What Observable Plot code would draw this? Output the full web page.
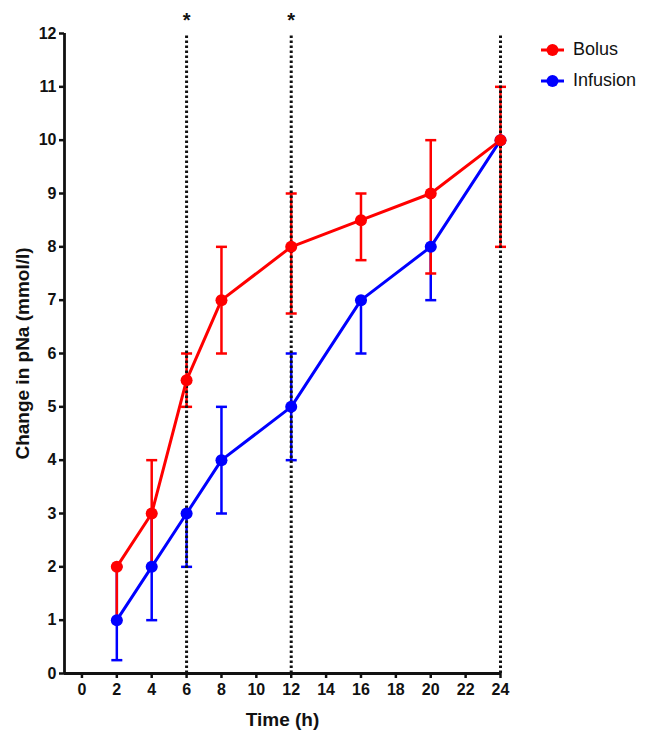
<!DOCTYPE html>
<html><head><meta charset="utf-8">
<script src="https://cdn.jsdelivr.net/npm/d3@7"></script>
<script src="https://cdn.jsdelivr.net/npm/@observablehq/plot@0.6"></script>
<style>
body{margin:0;background:#fff;}
#wrap{position:relative;width:646px;height:730px;font-family:"Liberation Sans",Arial,sans-serif;}
.legend{position:absolute;left:540px;top:34px;font-size:18px;color:#111;}
.item{display:flex;align-items:center;height:31px;}
.item svg{margin-right:8px;}
</style></head><body><div id="wrap"></div>
<script>
// ---- data ----
const times = [2, 4, 6, 8, 12, 16, 20, 24];
const bolusMean = [2, 3, 5.5, 7, 8, 8.5, 9, 10];
const bolusLow  = [1, 2, 5, 6, 6.75, 7.75, 7.5, 8];
const bolusHigh = [2, 4, 6, 8, 9, 9, 10, 11];
const infusionMean = [1, 2, 3, 4, 5, 7, 8, 10];
const infusionLow  = [0.25, 1, 2, 3, 4, 6, 7, 10];
const infusionHigh = [2, 3, 3, 5, 6, 7, 8, 10];
const groups = ["Bolus", "Infusion"];
const colors = ["#ff0000", "#0000ff"];
const markedTimes = [6, 12, 24];
const starTimes = [6, 12];
const xTicks = [0, 2, 4, 6, 8, 10, 12, 14, 16, 18, 20, 22, 24];
const yTicks = [0, 1, 2, 3, 4, 5, 6, 7, 8, 9, 10, 11, 12];
const xLabel = "Time (h)";
const yLabel = "Change in pNa (mmol/l)";

// ---- table ----
const rows = [];
times.forEach((t, i) => rows.push({group: "Infusion", t, mean: infusionMean[i], low: infusionLow[i], high: infusionHigh[i]}));
times.forEach((t, i) => rows.push({group: "Bolus", t, mean: bolusMean[i], low: bolusLow[i], high: bolusHigh[i]}));

const cap = {draw(ctx, size) { const w = Math.sqrt(size / Math.PI); ctx.moveTo(-w, 0); ctx.lineTo(w, 0); }};

const chart = Plot.plot({
  width: 646, height: 730,
  marginTop: 33, marginBottom: 57, marginLeft: 64, marginRight: 146,
  x: {domain: [-1, 24]},
  y: {domain: [0, 12]},
  color: {domain: groups, range: colors},
  style: {fontFamily: "'Liberation Sans', Arial, sans-serif", fontSize: "16px", fontWeight: "bold", color: "#111", background: "#fff"},
  marks: [
    Plot.ruleX(rows, {x: "t", y1: "low", y2: "high", stroke: "group", strokeWidth: 2.5}),
    Plot.dot(rows, {x: "t", y: "low", symbol: cap, r: 5.5, stroke: "group", strokeWidth: 2.5}),
    Plot.dot(rows, {x: "t", y: "high", symbol: cap, r: 5.5, stroke: "group", strokeWidth: 2.5}),
    Plot.ruleX(markedTimes, {x: d => d, y1: 0, y2: 12, stroke: "#111", strokeWidth: 3, strokeDasharray: "2.5,2.5"}),
    Plot.line(rows, {x: "t", y: "mean", z: "group", stroke: "group", strokeWidth: 3}),
    Plot.dot(rows, {x: "t", y: "mean", fill: "group", r: 6}),
    Plot.ruleY([0], {stroke: "#111", strokeWidth: 2.8}),
    Plot.ruleX([-1], {stroke: "#111", strokeWidth: 2.8}),
    Plot.axisX({ticks: xTicks, tickSize: 5, tickPadding: 5, strokeWidth: 2.5, label: xLabel, labelAnchor: "center", labelArrow: "none", labelOffset: 52, fontSize: 16}),
    Plot.axisY({ticks: yTicks, tickSize: 5, tickPadding: 3, strokeWidth: 2.5, label: yLabel, labelAnchor: "center", labelArrow: "none", labelOffset: 49, fontSize: 16}),
    Plot.text(starTimes, {x: d => d, y: 12, text: () => "*", dy: -13, fontSize: 20, fontWeight: "bold"})
  ]
});
const wrap = document.getElementById("wrap");
wrap.appendChild(chart);

// axis-label font size
chart.querySelectorAll("[aria-label='x-axis label'] text, [aria-label='y-axis label'] text").forEach(t => t.setAttribute("font-size", "19"));

// legend
const legend = document.createElement("div");
legend.className = "legend";
groups.forEach((g, i) => {
  const item = document.createElement("div");
  item.className = "item";
  const sw = d3.create("svg").attr("width", 25).attr("height", 14);
  sw.append("line").attr("x1", 1).attr("x2", 24).attr("y1", 7).attr("y2", 7).attr("stroke", colors[i]).attr("stroke-width", 3);
  sw.append("circle").attr("cx", 12.5).attr("cy", 7).attr("r", 6).attr("fill", colors[i]);
  item.appendChild(sw.node());
  const span = document.createElement("span");
  span.textContent = g;
  item.appendChild(span);
  legend.appendChild(item);
});
wrap.appendChild(legend);
</script></body></html>
